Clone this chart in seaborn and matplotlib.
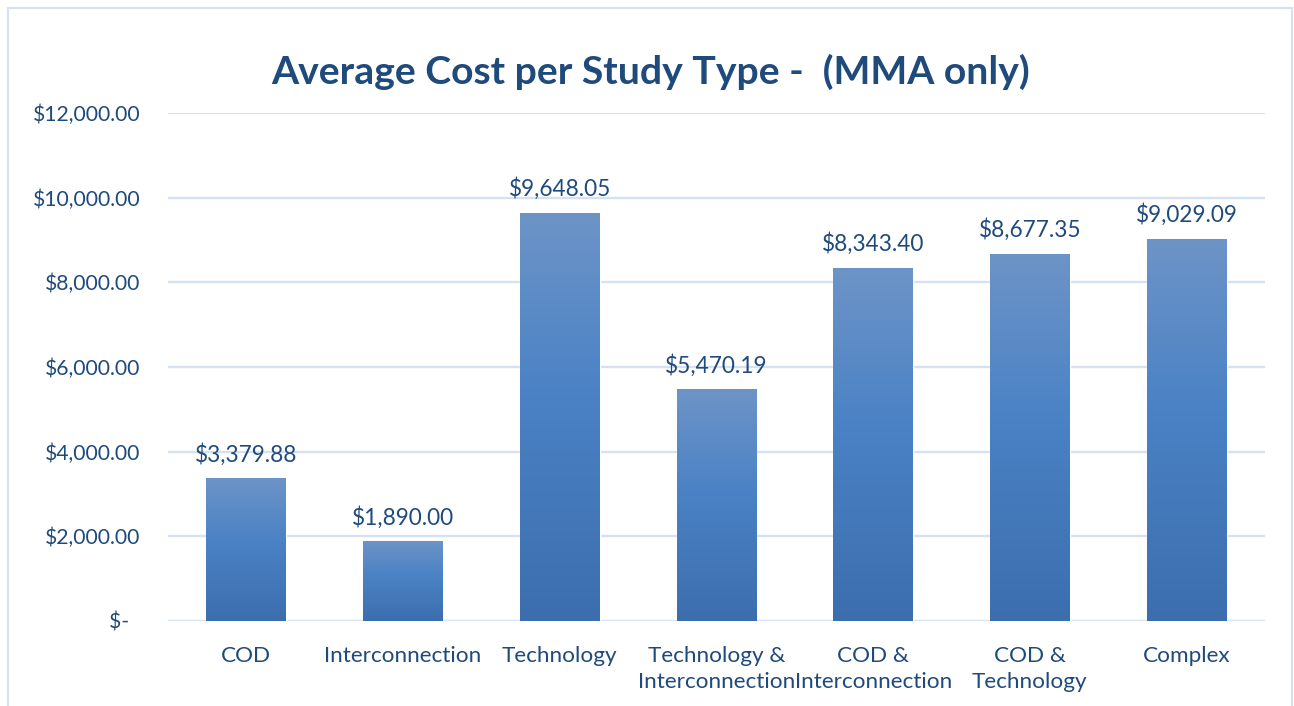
import matplotlib.pyplot as plt
import numpy as np
import pandas as pd
import seaborn as sns
from matplotlib.colors import LinearSegmentedColormap
from matplotlib.patches import Rectangle

categories = ["COD", "Interconnection", "Technology", "Technology &\nInterconnection",
              "COD &\nInterconnection", "COD &\nTechnology", "Complex"]
avg_cost = [3379.88, 1890.00, 9648.05, 5470.19, 8343.40, 8677.35, 9029.09]
y_ticks = [0, 2000, 4000, 6000, 8000, 10000, 12000]

TEXT = "#1F4A7C"
GRID = "#D5E0F0"

df = pd.DataFrame({"study_type": categories, "cost": avg_cost})

sns.set_style("white")
plt.rcParams["font.family"] = ["Lato", "DejaVu Sans"]

fig = plt.figure(figsize=(12.94, 7.06), dpi=100)
ax = fig.add_axes([0.1298, 0.1204, 0.8478, 0.7195])
sns.barplot(data=df, x="study_type", y="cost", color="#4A82C5", width=0.51,
            ax=ax, zorder=3)

# excel-style vertical gradient, one per bar, clipped to the bar patch
cmap = LinearSegmentedColormap.from_list(
    "xl", [(0, "#3C6EAE"), (0.55, "#4A82C5"), (1, "#6D94C7")])
grad = np.linspace(1, 0, 256).reshape(-1, 1)
for bar in ax.patches:
    x0, w, h = bar.get_x(), bar.get_width(), bar.get_height()
    im = ax.imshow(grad, cmap=cmap, vmin=0, vmax=1, extent=[x0, x0 + w, 0, h],
                   aspect="auto", origin="upper", zorder=3.5)
    im.set_clip_path(bar)

ax.bar_label(ax.containers[0], labels=[f"${v:,.2f}" for v in avg_cost],
             padding=9, fontsize=16.3, color=TEXT)

ax.set_xlim(-0.5, len(categories) - 0.5)
ax.set_ylim(0, 12000)
ax.set_yticks(y_ticks)
ax.set_yticklabels([f"${v:,.2f}" if v else "$-  " for v in y_ticks])
ax.set_xlabel("")
ax.set_ylabel("")
ax.yaxis.grid(True, color=GRID, lw=1.7)
ax.set_axisbelow(True)
sns.despine(ax=ax, left=True, bottom=True)
ax.tick_params(axis="y", length=0, pad=20, labelsize=15.2, labelcolor=TEXT)
ax.tick_params(axis="x", length=0, pad=18, labelsize=16.2, labelcolor=TEXT)
for t in ax.get_xticklabels():
    t.set_linespacing(1.38)

fig.text(0.503, 1 - 72 / 706, "Average Cost per Study Type -  (MMA only)",
         ha="center", va="center", fontsize=28.2, fontweight="bold", color=TEXT)

# chart-area border
fig.patches.append(Rectangle((8 / 1294, -0.02), 1284 / 1294, 1.02 - 8 / 706,
                             transform=fig.transFigure, fill=False,
                             edgecolor=GRID, lw=1.5))

fig.savefig("out.png", dpi=100)
